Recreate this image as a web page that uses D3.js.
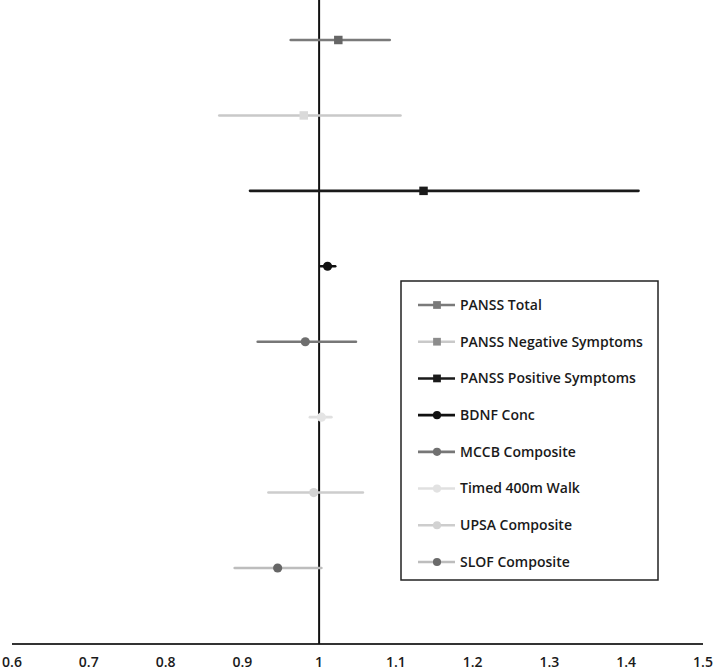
<!DOCTYPE html>
<html>
<head>
<meta charset="utf-8">
<script src="https://cdn.jsdelivr.net/npm/d3@7"></script>
<style>
  body { margin: 0; background: #fff; }
  svg { display: block; }
  text { font-family: "Open Sans", "DejaVu Sans", sans-serif; fill: #1a1a1a; }
</style>
</head>
<body>
<svg id="chart" width="715" height="671"></svg>
<script>
  const width = 715, height = 671;

  // measures, top to bottom
  const measures = ["PANSS Total", "PANSS Negative Symptoms", "PANSS Positive Symptoms", "BDNF Conc",
                    "MCCB Composite", "Timed 400m Walk", "UPSA Composite", "SLOF Composite"];
  const estimate = [1.025, 0.980, 1.136, 1.011, 0.982, 1.003, 0.993, 0.946];
  const lower    = [0.963, 0.870, 0.910, 1.002, 0.920, 0.988, 0.934, 0.890];
  const upper    = [1.092, 1.106, 1.416, 1.021, 1.048, 1.016, 1.057, 1.003];
  const shapes   = ["square", "square", "square", "circle", "circle", "circle", "circle", "circle"];
  const lineColors   = ["#7a7a7a", "#c9c9c9", "#1a1a1a", "#111111", "#777777", "#e0e0e0", "#cdcdcd", "#bdbdbd"];
  const markerColors = ["#666666", "#dadada", "#1a1a1a", "#111111", "#6e6e6e", "#e4e4e4", "#d4d4d4", "#666666"];
  const legendMarkerColors = ["#7a7a7a", "#8c8c8c", "#1a1a1a", "#111111", "#707070", "#e2e2e2", "#d2d2d2", "#6a6a6a"];
  const ticks = [0.6, 0.7, 0.8, 0.9, 1, 1.1, 1.2, 1.3, 1.4, 1.5];

  const rows = measures.map((m, i) => ({
    name: m, est: estimate[i], lo: lower[i], hi: upper[i], shape: shapes[i],
    line: lineColors[i], fill: markerColors[i], legendFill: legendMarkerColors[i]
  }));

  const svg = d3.select("#chart");

  const x = d3.scaleLinear().domain([0.6, 1.5]).range([12, 703]);
  const y = d3.scalePoint().domain(measures).range([40, 568]);
  const axisY = 644;

  // x axis: plain line with labels, no tick marks
  svg.append("line")
    .attr("x1", x(0.6)).attr("x2", x(1.5))
    .attr("y1", axisY).attr("y2", axisY)
    .attr("stroke", "#333").attr("stroke-width", 2.2);

  svg.append("g").selectAll("text")
    .data(ticks)
    .join("text")
      .attr("x", d => x(d))
      .attr("y", 667)
      .attr("text-anchor", "middle")
      .attr("font-size", "14px")
      .attr("font-weight", 600)
      .text(d => d);

  // reference line at 1
  svg.append("line")
    .attr("x1", x(1)).attr("x2", x(1))
    .attr("y1", 0).attr("y2", axisY)
    .attr("stroke", "#111").attr("stroke-width", 2);

  const g = svg.append("g").attr("id", "rows");

  g.selectAll("line.ci")
    .data(rows)
    .join("line")
      .attr("class", "ci")
      .attr("x1", d => x(d.lo)).attr("x2", d => x(d.hi))
      .attr("y1", d => y(d.name)).attr("y2", d => y(d.name))
      .attr("stroke", d => d.line)
      .attr("stroke-width", 2.6)
      .attr("stroke-linecap", "round");

  const sym = d3.symbol().type(d => d.shape == "square" ? d3.symbolSquare : d3.symbolCircle)
    .size(d => d.shape == "square" ? 72 : 66);

  g.selectAll("path.pt")
    .data(rows)
    .join("path")
      .attr("class", "pt")
      .attr("transform", d => `translate(${x(d.est)},${y(d.name)})`)
      .attr("d", sym)
      .attr("fill", d => d.fill);

  // legend
  const lg = svg.append("g").attr("id", "legend");
  lg.append("rect")
    .attr("x", 401).attr("y", 281)
    .attr("width", 257).attr("height", 299)
    .attr("fill", "#fff")
    .attr("stroke", "#222").attr("stroke-width", 1.5);

  const ly = d3.scalePoint().domain(measures).range([305, 562]);

  const items = lg.selectAll("g.item")
    .data(rows)
    .join("g")
      .attr("class", "item")
      .attr("transform", d => `translate(0,${ly(d.name)})`);

  items.append("line")
    .attr("x1", 418).attr("x2", 455)
    .attr("stroke", d => d.line)
    .attr("stroke-width", 2.6);

  items.append("path")
    .attr("transform", "translate(437,0)")
    .attr("d", d3.symbol().type(d => d.shape == "square" ? d3.symbolSquare : d3.symbolCircle)
      .size(d => d.shape == "square" ? 60 : 52))
    .attr("fill", d => d.legendFill);

  items.append("text")
    .attr("x", 460)
    .attr("dy", "0.35em")
    .attr("font-size", "14px")
    .attr("font-weight", 600)
    .text(d => d.name);
</script>
</body>
</html>
